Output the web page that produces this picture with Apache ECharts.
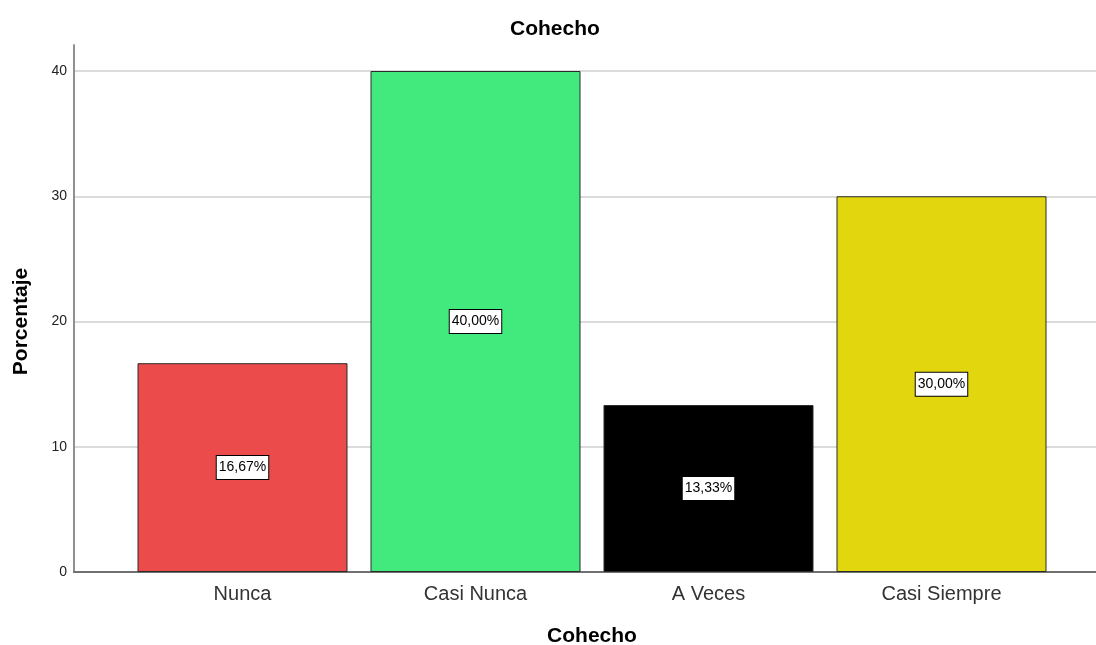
<!DOCTYPE html>
<html>
<head>
<meta charset="utf-8">
<title>Cohecho</title>
<script src="https://cdn.jsdelivr.net/npm/echarts@6/dist/echarts.min.js"></script>
<style>
  html, body { margin: 0; padding: 0; background: #fff; }
  #chart { width: 1096px; height: 645px; }
</style>
</head>
<body>
<div id="chart"></div>
<script>
// Frequency distribution of "Cohecho" responses (percent)
const categories = ['Nunca', 'Casi Nunca', 'A Veces', 'Casi Siempre'];
const percentages = [16.67, 40.00, 13.33, 30.00];
const barColors = ['#EB4B4B', '#42EA7E', '#000000', '#E2D70F'];
const yTicks = [0, 10, 20, 30, 40];

const FONT = '"Liberation Sans", Arial, sans-serif';
const yMin = yTicks[0];
const yMax = yTicks[yTicks.length - 1];
const yStep = yTicks[1] - yTicks[0];

const chart = echarts.init(document.getElementById('chart'), null, { renderer: 'canvas' });

const option = {
  backgroundColor: '#ffffff',
  animation: false,
  title: {
    text: 'Cohecho',
    left: 505,
    top: 14,
    textStyle: { fontFamily: FONT, fontSize: 21, fontWeight: 'bold', color: '#000' }
  },
  grid: [
    // value axis with gridlines and the baseline
    { left: 74, right: 0, top: 71, bottom: 73, outerBoundsMode: 'none' },
    // vertical axis line reaching above the top tick
    { left: 74, right: 0, top: 45, bottom: 73, outerBoundsMode: 'none' },
    // category band holding the bars
    { left: 126, right: 38, top: 71, bottom: 73, outerBoundsMode: 'none' }
  ],
  xAxis: [
    {
      gridIndex: 0, type: 'value', min: 0, max: 1,
      axisLine: { show: true, lineStyle: { color: '#707070', width: 2 } },
      axisTick: { show: false }, axisLabel: { show: false }, splitLine: { show: false }
    },
    {
      gridIndex: 1, type: 'value', min: 0, max: 1, show: false
    },
    {
      gridIndex: 2, type: 'category', data: categories,
      axisLine: { show: false }, axisTick: { show: false },
      axisLabel: { fontFamily: FONT, fontSize: 20, color: '#333', margin: 12 },
      name: 'Cohecho', nameLocation: 'middle', nameGap: 54,
      nameTextStyle: { fontFamily: FONT, fontSize: 21, fontWeight: 'bold', color: '#000' }
    }
  ],
  yAxis: [
    {
      gridIndex: 0, type: 'value', min: yMin, max: yMax, interval: yStep,
      axisLine: { show: false }, axisTick: { show: false },
      axisLabel: { fontFamily: FONT, fontSize: 14, color: '#222', margin: 7 },
      splitLine: { show: true, lineStyle: { color: '#cfcfcf', width: 1.6 } },
      name: 'Porcentaje', nameLocation: 'middle', nameGap: 42, nameRotate: 90,
      nameTextStyle: { fontFamily: FONT, fontSize: 21, fontWeight: 'bold', color: '#000' }
    },
    {
      gridIndex: 1, type: 'value', min: 0, max: 1,
      axisLine: { show: true, lineStyle: { color: '#909090', width: 2 } },
      axisTick: { show: false }, axisLabel: { show: false }, splitLine: { show: false }
    },
    {
      gridIndex: 2, type: 'value', min: yMin, max: yMax, interval: yStep, show: false
    }
  ],
  series: [
    {
      type: 'bar',
      xAxisIndex: 2,
      yAxisIndex: 2,
      barWidth: 210,
      data: percentages.map((v, i) => ({
        value: v,
        itemStyle: { color: barColors[i], borderColor: '#2b2b2b', borderWidth: 1 }
      })),
      label: {
        show: true,
        position: 'inside',
        formatter: p => p.value.toFixed(2).replace('.', ',') + '%',
        fontFamily: FONT,
        fontSize: 14,
        color: '#000',
        backgroundColor: '#ffffff',
        borderColor: '#000',
        borderWidth: 1,
        padding: [5, 2, 4, 2]
      }
    }
  ]
};

chart.setOption(option);
</script>
</body>
</html>
